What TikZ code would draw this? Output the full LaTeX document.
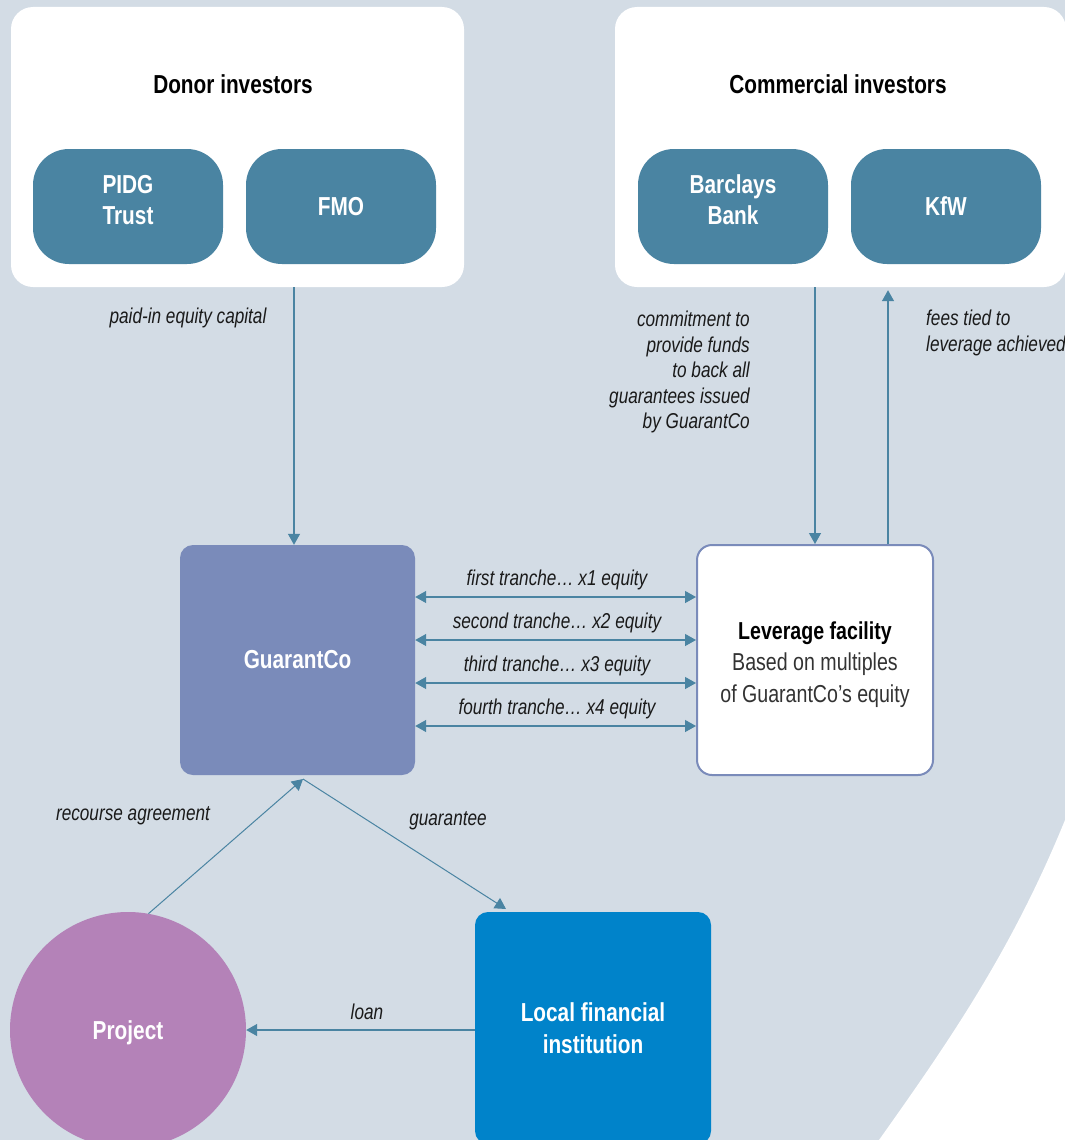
\documentclass[tikz,border=0pt]{standalone}
\usepackage{fontspec}
\setmainfont{Liberation Sans}[FakeStretch=0.8]
\usetikzlibrary{arrows.meta,calc}
\definecolor{bggrey}{HTML}{D3DCE5}
\definecolor{teal}{HTML}{4A84A2}
\definecolor{gco}{HTML}{7A8BBA}
\definecolor{proj}{HTML}{B482B8}
\definecolor{lfi}{HTML}{0083CA}
\definecolor{labtxt}{HTML}{1A1A1A}
\tikzset{
  panel/.style={rectangle, rounded corners=22pt, fill=white, inner sep=0pt},
  member/.style={rectangle, rounded corners=36pt, fill=teal, inner sep=0pt,
    minimum width=190pt, minimum height=115pt, text=white, align=center,
    font=\bfseries\fontsize{26}{31}\selectfont},
  title/.style={font=\bfseries\fontsize{26}{31}\selectfont, text=black, inner sep=0pt},
  lab/.style={font=\itshape\fontsize{21.5}{25.5}\selectfont, text=labtxt, inner sep=0pt},
  arr/.style={draw=teal, line width=1.3pt, -{Triangle[width=12pt,length=11pt]}},
  darr/.style={draw=teal, line width=1.3pt, {Triangle[width=12pt,length=11pt]}-{Triangle[width=12pt,length=11pt]}},
}
\newcommand{\twolines}[2]{\raisebox{-2.5pt}[0pt][0pt]{\begin{tabular}{@{}c@{}}#1\\#2\end{tabular}}}
\newcommand{\oneline}[1]{\raisebox{-9pt}[0pt][0pt]{#1}}
\begin{document}
\begin{tikzpicture}[x=1pt,y=-1pt]
\useasboundingbox (0,0) rectangle (1065,1140);
\clip (0,0) rectangle (1065,1140);
% background
\fill[bggrey] (0,0) rectangle (1065,1140);
\fill[white] (1065,820) .. controls (1012,950) and (950,1040) .. (879,1140) -- (1065,1140) -- cycle;

% panels
\node[panel, minimum width=453pt, minimum height=280pt] (donor) at (237.5,147) {};
\node[panel, minimum width=451pt, minimum height=280pt] (comm) at (840.5,147) {};
\node[title] (donortitle) at (233,84) {Donor investors};
\node[title] (commtitle) at (838,84) {Commercial investors};

\node[member] (pidg) at (128,206.5) {\twolines{PIDG}{Trust}};
\node[member] (fmo) at (341,206.5) {\oneline{FMO}};
\node[member] (barclays) at (733,206.5) {\twolines{Barclays}{Bank}};
\node[member] (kfw) at (946,206.5) {\oneline{KfW}};

% main nodes
\node[rectangle, rounded corners=13pt, fill=gco, minimum width=235pt, minimum height=230pt,
  inner sep=0pt, text=white, font=\bfseries\fontsize{26}{31}\selectfont] (gc) at (297.5,660) {GuarantCo};
\node[rectangle, rounded corners=15pt, fill=white, draw=gco, line width=2pt,
  minimum width=236pt, minimum height=230pt, inner sep=0pt,
  font=\fontsize{24.5}{31.5}\selectfont, text=black!80] (lev) at (815,660)
  {\raisebox{-10.5pt}[0pt][0pt]{\begin{tabular}{@{}c@{}}{\bfseries\color{black}Leverage facility}\\
   Based on multiples\\
   of GuarantCo’s equity\end{tabular}}};
\node[circle, fill=proj, minimum size=236pt, inner sep=0pt, text=white,
  font=\bfseries\fontsize{26}{31}\selectfont] (project) at (128,1030) {\raisebox{-9pt}[0pt][0pt]{Project}};
\node[rectangle, rounded corners=13pt, fill=lfi, minimum width=236pt, minimum height=232pt,
  inner sep=0pt, text=white, align=center, font=\bfseries\fontsize{26}{32}\selectfont] (lfinst) at (593,1028)
  {Local financial\\institution};

% coordinates
\coordinate (xpaid) at (294,0);
\coordinate (xfees) at (888,0);
\coordinate (gcb) at (303,779);
\coordinate (lfit) at (506,909);
\coordinate (t1) at (557,597);
\coordinate (t2) at (557,640);
\coordinate (t3) at (557,683);
\coordinate (t4) at (557,726);

% connectors
\draw[arr] (donor.south -| xpaid) -- (gc.north -| xpaid);
\draw[arr] (comm.south -| lev.north) -- (lev.north);
\draw[arr] (lev.north -| xfees) -- ([yshift=-3pt]comm.south -| xfees);
\draw[darr] (gc.east |- t1) -- (lev.west |- t1);
\draw[darr] (gc.east |- t2) -- (lev.west |- t2);
\draw[darr] (gc.east |- t3) -- (lev.west |- t3);
\draw[darr] (gc.east |- t4) -- (lev.west |- t4);
\draw[arr, line width=1pt] (project.80) -- (gcb);
\draw[arr, line width=1pt] (gcb) -- (lfit);
\draw[arr] (lfinst.west |- project.east) -- (project.east);

% labels
\node[lab] (lpaid) at (188,318) {paid-in equity capital};
\node[lab, align=right, anchor=east] (lcommit) at (750,372)
  {commitment to\\provide funds\\to back all\\guarantees issued\\by GuarantCo};
\node[lab, align=left, anchor=west] (lfees) at (926,333) {fees tied to\\leverage achieved};
\node[lab] (lt1) at (557,580) {first tranche… x1 equity};
\node[lab] (lt2) at (557,623) {second tranche… x2 equity};
\node[lab] (lt3) at (557,666) {third tranche… x3 equity};
\node[lab] (lt4) at (557,709) {fourth tranche… x4 equity};
\node[lab] (lrec) at (133,816) {recourse agreement};
\node[lab] (lguar) at (448,821) {guarantee};
\node[lab] (lloan) at (367,1012) {loan};
\end{tikzpicture}
\end{document}
